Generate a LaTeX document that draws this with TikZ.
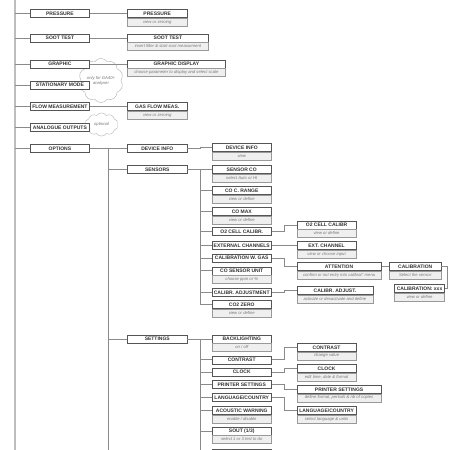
\documentclass[tikz,border=0pt]{standalone}
\usepackage{fontspec}
\setmainfont{Liberation Sans}
\usetikzlibrary{shapes.symbols}
\definecolor{boxc}{HTML}{555555}
\definecolor{subf}{HTML}{EFEFEF}
\definecolor{subtx}{HTML}{777777}
\definecolor{linec}{HTML}{8A8A8A}
\definecolor{trunkc}{HTML}{BDBDBD}
\definecolor{ttx}{HTML}{333333}
\newcommand\ttlf{\fontsize{5}{6}\selectfont\bfseries}
\newcommand\sbtf{\fontsize{4.2}{5}\selectfont\itshape}
\tikzset{
 ttl/.style={draw=boxc, fill=white, line width=0.5pt, font=\ttlf, text=ttx, minimum height=8pt, inner sep=0pt, anchor=west},
 sbt/.style={draw=boxc!60, fill=subf, line width=0.4pt, font=\sbtf, text=subtx, minimum height=8pt, inner sep=0pt, anchor=north},
 conn/.style={draw=linec, line width=0.7pt},
 trunk/.style={draw=trunkc, line width=1.4pt},
 note/.style={cloud, cloud puffs=10, cloud puff arc=110, draw=gray!60, fill=white, line width=0.4pt, font=\sbtf, text=subtx, inner sep=0pt, align=center}
}
\newcommand\tbx[6]{%
 \node[ttl, minimum width=#3pt] (#1) at (#2,#4) {#5};
 \node[sbt, minimum width=#3pt] (#1s) at (#1.south) {#6};}
\newcommand\sbx[5]{%
 \node[ttl, minimum width=#3pt] (#1) at (#2,#4) {#5};}
\begin{document}
\begin{tikzpicture}[x=1pt,y=-1pt]
\useasboundingbox (0,0) rectangle (450,450);
\clip (0,0) rectangle (450,450);
% trunks
\coordinate (t0a) at (15,0);
\coordinate (t0b) at (15,450);
\coordinate (t1b) at (108,450);
\coordinate (t2) at (200.7,0);
\coordinate (t3) at (200.7,450);
\draw[trunk] (t0a) -- (t0b);
% clouds (behind boxes)
\node[note, minimum width=38pt, minimum height=21pt] (c1) at (101,80.5) {only for GA40+\\analyser};
\node[note, minimum width=33pt, minimum height=14pt] (c2) at (101.5,124.5) {optional};
% level 1
\sbx{pr1}{30}{59.3}{13.5}{PRESSURE}
\sbx{so1}{30}{59.3}{38}{SOOT TEST}
\sbx{gr1}{30}{59.3}{64}{GRAPHIC}
\sbx{st1}{30}{59.3}{85}{STATIONARY MODE}
\sbx{fl1}{30}{59.3}{106.5}{FLOW MEASUREMENT}
\sbx{an1}{30}{59.3}{127.7}{ANALOGUE OUTPUTS}
\sbx{op1}{30}{59.3}{148.5}{OPTIONS}
\foreach \n in {pr1,so1,gr1,st1,fl1,an1,op1} \draw[conn] (\n.west) -- (\n.west -| t0a);
% level 2 (top part)
\tbx{pr2}{127.3}{59.4}{13.5}{PRESSURE}{view or zeroing}
\tbx{so2}{127.3}{80.7}{38}{SOOT TEST}{insert filter \& start soot measurment}
\tbx{gr2}{127.3}{97.7}{64}{GRAPHIC DISPLAY}{choose parameter to display and select scale}
\tbx{fl2}{127.3}{59.4}{106.5}{GAS FLOW MEAS.}{view or zeroing}
\draw[conn] (pr1.east) -- (pr2.west);
\draw[conn] (so1.east) -- (so2.west);
\draw[conn] (gr1.east) -- (gr2.west);
\draw[conn] (fl1.east) -- (fl2.west);
% options
\draw[conn] (op1.east) -| (t1b);
\sbx{dev2}{127.3}{59.4}{148.5}{DEVICE INFO}
\sbx{sen2}{127.3}{59.4}{169.5}{SENSORS}
\sbx{set2}{127.3}{59.4}{339}{SETTINGS}
\foreach \n in {dev2,sen2,set2} \draw[conn] (\n.west) -- (\n.west -| t1b);
% sensors level 3
\tbx{dev3}{211.7}{59.6}{147.5}{DEVICE INFO}{view}
\draw[conn] (dev2.east) -- ++(13,0) |- (dev3.west);
\tbx{sco}{211.7}{59.6}{169.5}{SENSOR CO}{select Auto or HI}
\tbx{ccr}{211.7}{59.6}{190.5}{CO C. RANGE}{view or define}
\tbx{cmx}{211.7}{59.6}{211.5}{CO MAX}{view or define}
\sbx{o2c}{211.7}{59.6}{231.5}{O2 CELL CALIBR.}
\sbx{ext}{211.7}{59.6}{245.5}{EXTERNAL CHANNELS}
\sbx{cwg}{211.7}{59.6}{258}{CALIBRATION W. GAS}
\tbx{csu}{211.7}{59.6}{270.8}{CO SENSOR UNIT}{choose ppm or \%}
\sbx{cad}{211.7}{59.6}{292.5}{CALIBR. ADJUSTMENT}
\tbx{c2z}{211.7}{59.6}{304.5}{CO2 ZERO}{view or define}
\draw[conn] (sen2.east) -| (c2z.west -| t2) -- (c2z.west);
\foreach \n in {sco,ccr,cmx,o2c,ext,cwg,csu,cad} \draw[conn] (\n.west) -- (\n.west -| t2);
% sensors level 4
\tbx{o2l}{296.7}{59.3}{225}{O2 CELL CALIBR}{view or define}
\tbx{exl}{296.7}{59.3}{245.5}{EXT. CHANNEL}{view or choose input}
\tbx{att}{296.7}{84.3}{266.7}{ATTENTION}{confirm or not entry into calibrat° menu}
\tbx{cal}{389.3}{51.4}{266.7}{CALIBRATION}{Select the sensor}
\tbx{cxx}{394.3}{50}{288.3}{CALIBRATION: xxx}{view or define}
\tbx{cal2}{296.7}{76}{290.7}{CALIBR. ADJUST.}{activate or desactivate and define}
\draw[conn] (o2c.east) -- ++(13,0) |- (o2l.west);
\draw[conn] (ext.east) -- (exl.west);
\draw[conn] (cwg.east) -- ++(13,0) |- (att.west);
\draw[conn] (att.east) -- (cal.west);
\draw[conn] (cal.east) -- ++(6,0) |- (cxx.east);
\draw[conn] (cad.east) -- ++(13,0) |- (cal2.west);
% settings level 3
\draw[conn] (set2.east) -| (t3);
\tbx{bkl}{211.7}{59.6}{339}{BACKLIGHTING}{on / off}
\sbx{ctr}{211.7}{59.6}{359.8}{CONTRAST}
\sbx{clk}{211.7}{59.6}{372.2}{CLOCK}
\sbx{prs}{211.7}{59.6}{384.5}{PRINTER SETTINGS}
\sbx{lng}{211.7}{59.6}{397.3}{LANGUAGE/COUNTRY}
\tbx{acw}{211.7}{59.6}{410.5}{ACOUSTIC WARNING}{enable / disable}
\tbx{sout}{211.7}{59.6}{431}{SOUT (1/3)}{select 1 or 3 test to do}
\sbx{nxt}{211.7}{59.6}{453}{}
\foreach \n in {bkl,ctr,clk,prs,lng,acw,sout,nxt} \draw[conn] (\n.west) -- (\n.west -| t3);
% settings level 4
\tbx{ctl}{296.7}{59.3}{347.3}{CONTRAST}{change value}
\tbx{cll}{296.7}{59.3}{368.5}{CLOCK}{edit time, date \& format}
\tbx{prl}{296.7}{84.3}{389.3}{PRINTER SETTINGS}{define format, periods \& nb of copies}
\tbx{lnl}{296.7}{59.3}{410.5}{LANGUAGE/COUNTRY}{select language \& units}
\draw[conn] (ctr.east) -- ++(13,0) |- (ctl.west);
\draw[conn] (clk.east) -- ++(13,0) |- (cll.west);
\draw[conn] (prs.east) -- ++(13,0) |- (prl.west);
\draw[conn] (lng.east) -- ++(13,0) |- (lnl.west);
\end{tikzpicture}
\end{document}
